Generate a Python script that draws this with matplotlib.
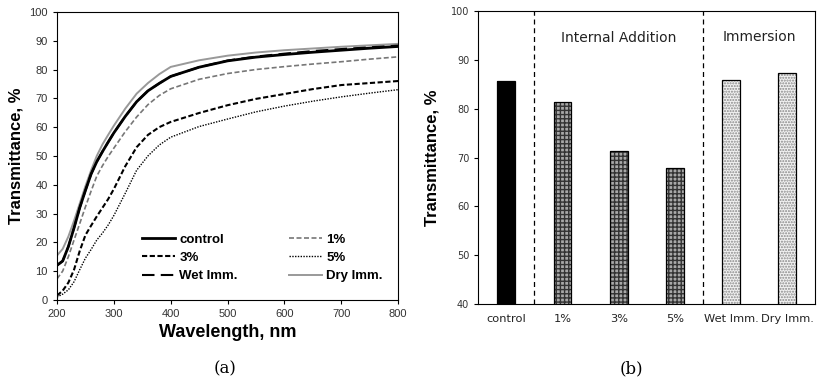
import numpy as np
import matplotlib.pyplot as plt

# (a) spectra
wl = [200, 210, 220, 230, 240, 250, 260, 270, 280, 290, 300, 320, 340, 360,
      380, 400, 450, 500, 550, 600, 650, 700, 750, 800]
t_control = [12, 13.5, 18.5, 25, 32, 38, 43.7, 48, 51.5, 54.8, 58, 63.7, 68.8, 72.6,
             75.2, 77.6, 80.8, 83, 84.3, 85.2, 86, 86.7, 87.4, 88]
t_1 = [7.3, 10, 15, 20.8, 26.5, 32.3, 37.8, 43, 46.6, 49.8, 52.7, 58.4, 63.5, 67.8,
       71, 73.3, 76.6, 78.6, 80, 81, 81.9, 82.7, 83.6, 84.4]
t_3 = [1.5, 3.2, 6, 10.5, 17, 22.5, 25.8, 29, 32, 35, 38.5, 46.4, 53, 57.3,
       60, 61.8, 64.9, 67.6, 69.8, 71.5, 73.2, 74.6, 75.3, 76]
t_5 = [1, 2, 3.5, 6.3, 10.5, 14.5, 17.5, 20.8, 23.2, 26, 29.3, 37, 45, 50,
       53.8, 56.5, 60.2, 62.8, 65.3, 67.3, 69, 70.5, 71.8, 73]
t_wet = [12, 13.5, 18.5, 25, 32, 38, 43.7, 48, 51.5, 54.8, 58, 63.7, 68.8, 72.6,
         75.2, 77.6, 80.8, 83.1, 84.5, 85.5, 86.4, 87.1, 87.7, 88.3]
t_dry = [15.4, 17.7, 22, 27.5, 33.5, 39.5, 45, 50, 54, 57.3, 60.5, 66.4, 71.6, 75.3,
         78.4, 80.9, 83.2, 84.8, 85.9, 86.7, 87.3, 87.9, 88.4, 88.9]

# (b) bar values
samples = ["control", "1%", "3%", "5%", "Wet Imm.", "Dry Imm."]
trans = [85.7, 81.3, 71.4, 67.9, 85.9, 87.4]

fig = plt.figure(figsize=(8.26, 3.84), dpi=100)
ax1 = fig.add_axes([0.069, 0.219, 0.413, 0.75])
ax2 = fig.add_axes([0.579, 0.208, 0.408, 0.763])

sans = "Liberation Sans"

l_dry, = ax1.plot(wl, t_dry, color="#999999", lw=1.4)
l_1, = ax1.plot(wl, t_1, color="#777777", lw=1.2, ls=(0, (3, 1.5)))
l_3, = ax1.plot(wl, t_3, color="black", lw=1.5, ls=(0, (2.5, 1.2)))
l_5, = ax1.plot(wl, t_5, color="black", lw=1.0, ls=(0, (1, 1)))
l_c, = ax1.plot(wl, t_control, color="black", lw=2.0)
l_w, = ax1.plot(wl, t_wet, color="black", lw=1.5, ls=(0, (6, 3)))

ax1.set_xlim(200, 800)
ax1.set_ylim(0, 100)
ax1.set_xticks(np.arange(200, 801, 100))
ax1.set_yticks(np.arange(0, 101, 10))
ax1.tick_params(labelsize=8, direction="out", length=3, labelcolor="#333333")
for lab in ax1.get_xticklabels() + ax1.get_yticklabels():
    lab.set_family(sans)
ax1.set_xlabel("Wavelength, nm", fontsize=13, fontweight="bold", family=sans)
ax1.set_ylabel("Transmittance, %", fontsize=12, fontweight="bold", family=sans, labelpad=4)

leg = ax1.legend([l_c, l_3, l_w, l_1, l_5, l_dry],
                 ["control", "3%", "Wet Imm.", "1%", "5%", "Dry Imm."],
                 ncol=2, frameon=False, loc="lower right", bbox_to_anchor=(0.99, 0.02),
                 handlelength=2.5, handletextpad=0.3, columnspacing=3.9,
                 labelspacing=0.45, prop={"family": sans, "weight": "bold", "size": 9.5})

x = np.arange(len(samples))
faces = ["black", "#a8a8a8", "#a8a8a8", "#a8a8a8", "#f2f2f2", "#f2f2f2"]
hatch_cols = ["black", "#333333", "#333333", "#333333", "#888888", "#888888"]
hatches = [None, "++++", "++++", "++++", "......", "......"]
for i in range(len(samples)):
    ax2.bar(x[i], trans[i], width=0.32, color=faces[i], edgecolor=hatch_cols[i],
            linewidth=0, hatch=hatches[i])
    ax2.bar(x[i], trans[i], width=0.32, fill=False, edgecolor="black", linewidth=0.9)

ax2.axvline(0.5, color="black", lw=0.9, ls=(0, (4, 3)))
ax2.axvline(3.5, color="black", lw=0.9, ls=(0, (4, 3)))
ax2.text(2.0, 94.5, "Internal Addition", ha="center", va="center", fontsize=10,
         family="DejaVu Sans", color="#222222")
ax2.text(4.5, 94.7, "Immersion", ha="center", va="center", fontsize=10,
         family="DejaVu Sans", color="#222222")

ax2.set_xlim(-0.5, 5.5)
ax2.set_ylim(40, 100)
ax2.set_yticks(np.arange(40, 101, 10))
ax2.set_xticks(x)
ax2.set_xticklabels(samples)
ax2.tick_params(axis="y", labelsize=7, direction="out", length=3, labelcolor="#333333")
ax2.tick_params(axis="x", labelsize=8.2, length=0, pad=7, labelcolor="#222222")
ax2.set_ylabel("Transmittance, %", fontsize=12, fontweight="bold", family=sans, labelpad=8)

fig.text(0.272, 0.028, "(a)", ha="center", fontsize=12, family="DejaVu Serif")
fig.text(0.765, 0.028, "(b)", ha="center", fontsize=12, family="DejaVu Serif")

fig.savefig("out.png", dpi=100)
